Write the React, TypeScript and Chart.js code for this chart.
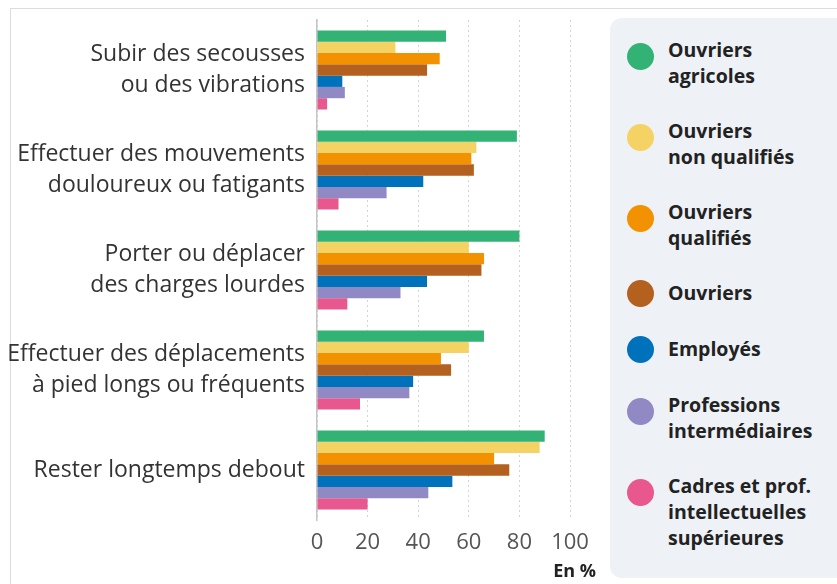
import React, { useEffect, useRef } from "react";
import { Chart, registerables } from "chart.js";

Chart.register(...registerables);

const categories: string[][] = [
  ["Subir des secousses", "ou des vibrations"],
  ["Effectuer des mouvements", "douloureux ou fatigants"],
  ["Porter ou déplacer", "des charges lourdes"],
  ["Effectuer des déplacements", "à pied longs ou fréquents"],
  ["Rester longtemps debout"],
];

const seriesNames: string[][] = [
  ["Ouvriers", "agricoles"],
  ["Ouvriers", "non qualifiés"],
  ["Ouvriers", "qualifiés"],
  ["Ouvriers"],
  ["Employés"],
  ["Professions", "intermédiaires"],
  ["Cadres et prof.", "intellectuelles", "supérieures"],
];

const ouvriersAgricoles = [51, 79, 80, 66, 90];
const ouvriersNonQualifies = [31, 63, 60, 60, 88];
const ouvriersQualifies = [48.5, 61, 66, 49, 70];
const ouvriers = [43.5, 62, 65, 53, 76];
const employes = [10, 42, 43.5, 38, 53.5];
const professionsIntermediaires = [11, 27.5, 33, 36.5, 44];
const cadresProfIntellectuelles = [4, 8.5, 12, 17, 20];

const seriesValues = [
  ouvriersAgricoles,
  ouvriersNonQualifies,
  ouvriersQualifies,
  ouvriers,
  employes,
  professionsIntermediaires,
  cadresProfIntellectuelles,
];

const seriesColors = ["#33b276", "#f5d264", "#f39200", "#b4601f", "#0072bc", "#9089c4", "#e8578d"];

const xMin = 0;
const xMax = 100;
const xStep = 20;
const unitLabel = "En %";

export default function App() {
  const ref = useRef<HTMLCanvasElement | null>(null);

  useEffect(() => {
    if (!ref.current) return;
    const chart = new Chart(ref.current, {
      type: "bar",
      data: {
        labels: categories,
        datasets: seriesValues.map((v, i) => ({
          label: seriesNames[i].join(" "),
          data: v,
          backgroundColor: seriesColors[i],
          borderWidth: 0,
          categoryPercentage: 0.79,
          barPercentage: 1.0,
        })),
      },
      options: {
        indexAxis: "y",
        responsive: false,
        animation: false,
        devicePixelRatio: 1,
        layout: { padding: { top: 20, right: 40, left: 0, bottom: 0 } },
        plugins: { legend: { display: false }, tooltip: { enabled: false } },
        scales: {
          x: {
            min: xMin,
            max: xMax,
            afterFit: (s: any) => {
              s.height = 64;
            },
            ticks: {
              stepSize: xStep,
              padding: 10,
              color: "#555",
              font: { family: "'Open Sans', sans-serif", size: 22 },
            },
            grid: {
              color: "#d4d4d4",
              lineWidth: 1,
              drawTicks: false,
            },
            border: { display: false, dash: [2, 3] },
          },
          y: {
            afterFit: (s: any) => {
              s.width = 317;
              s.paddingTop = 0;
              s.paddingBottom = 0;
            },
            ticks: {
              padding: 12,
              color: "#333",
              font: { family: "'Open Sans', sans-serif", size: 23, lineHeight: 1.35 },
            },
            grid: { display: false, drawTicks: false },
            border: { display: true, color: "#c4c4c4", width: 1.5 },
          },
        },
      },
    });
    return () => chart.destroy();
  }, []);

  return (
    <div
      style={{
        position: "fixed",
        left: 0,
        top: 0,
        width: 837,
        height: 584,
        background: "#fff",
        overflow: "hidden",
        fontFamily: "'Open Sans', sans-serif",
      }}
    >
      <div
        style={{
          position: "absolute",
          left: 10,
          top: 8,
          width: 1000,
          height: 1000,
          border: "1px solid #dcdcdc",
        }}
      />
      <canvas ref={ref} width={610} height={584} style={{ position: "absolute", left: 0, top: 0 }} />
      <div
        style={{
          position: "absolute",
          left: 500,
          width: 96,
          top: 557,
          textAlign: "right",
          fontWeight: 700,
          fontSize: 18,
          lineHeight: "26px",
          color: "#222",
        }}
      >
        {unitLabel}
      </div>
      <div
        style={{
          position: "absolute",
          left: 610,
          top: 18,
          width: 260,
          height: 560,
          borderRadius: 12,
          background: "#eef2f6",
          boxSizing: "border-box",
          paddingTop: 19,
          paddingLeft: 17,
        }}
      >
        {seriesNames.map((lines, i) => (
          <div key={i} style={{ display: "flex", alignItems: "flex-start", marginBottom: 29 }}>
            <div
              style={{
                width: 27,
                height: 27,
                borderRadius: "50%",
                background: seriesColors[i],
                marginTop: lines.length > 1 ? 6 : 0,
                flexShrink: 0,
              }}
            />
            <div
              style={{
                marginLeft: 14,
                fontWeight: 700,
                fontSize: 19.5,
                lineHeight: "26px",
                color: "#222",
                whiteSpace: "nowrap",
              }}
            >
              {lines.map((l, j) => (
                <div key={j}>{l}</div>
              ))}
            </div>
          </div>
        ))}
      </div>
    </div>
  );
}
